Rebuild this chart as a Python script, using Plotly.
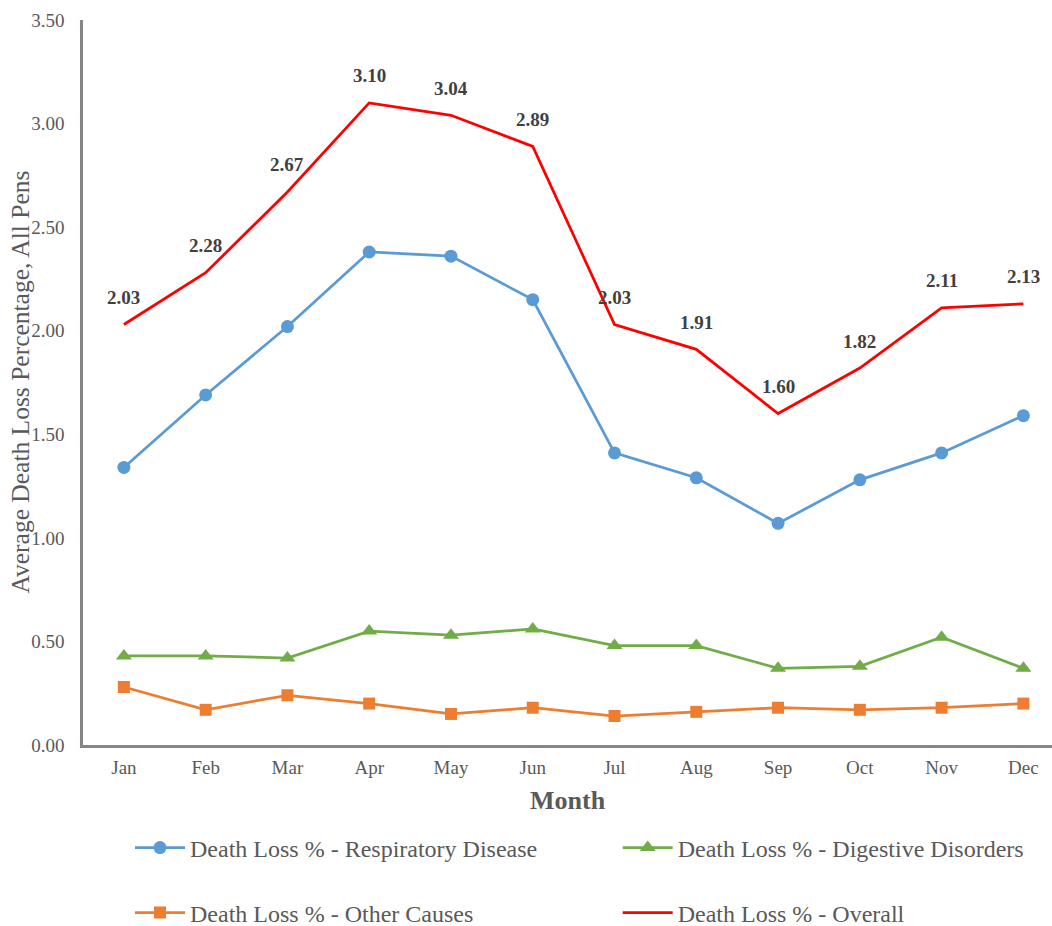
import plotly.graph_objects as go

months = ["Jan", "Feb", "Mar", "Apr", "May", "Jun", "Jul", "Aug", "Sep", "Oct", "Nov", "Dec"]
respiratory = [1.34, 1.69, 2.02, 2.38, 2.36, 2.15, 1.41, 1.29, 1.07, 1.28, 1.41, 1.59]
digestive = [0.43, 0.43, 0.42, 0.55, 0.53, 0.56, 0.48, 0.48, 0.37, 0.38, 0.52, 0.37]
other = [0.28, 0.17, 0.24, 0.20, 0.15, 0.18, 0.14, 0.16, 0.18, 0.17, 0.18, 0.20]
overall = [2.03, 2.28, 2.67, 3.10, 3.04, 2.89, 2.03, 1.91, 1.60, 1.82, 2.11, 2.13]

FONT = "Liberation Serif"
GRAY = "#595959"

fig = go.Figure()
fig.add_trace(go.Scatter(x=months, y=respiratory, mode="lines+markers",
                         name="Death Loss % - Respiratory Disease",
                         line=dict(color="#5B9BD5", width=2.75),
                         marker=dict(symbol="circle", size=13, color="#5B9BD5"),
                         legend="legend"))
fig.add_trace(go.Scatter(x=months, y=digestive, mode="lines+markers",
                         name="Death Loss % - Digestive Disorders",
                         line=dict(color="#70AD47", width=2.75),
                         marker=dict(symbol="triangle-up", size=14, color="#70AD47"),
                         legend="legend2"))
fig.add_trace(go.Scatter(x=months, y=other, mode="lines+markers",
                         name="Death Loss % - Other Causes",
                         line=dict(color="#ED7D31", width=2.75),
                         marker=dict(symbol="square", size=12, color="#ED7D31"),
                         legend="legend3"))
fig.add_trace(go.Scatter(x=months, y=overall, mode="lines",
                         name="Death Loss % - Overall",
                         line=dict(color="#FF0000", width=2.75),
                         legend="legend4"))

for m, v in zip(months, overall):
    fig.add_annotation(x=m, y=v, text=f"{v:.2f}", showarrow=False,
                       yshift=27, font=dict(family=FONT, size=19, color="#404040", weight="bold"))

fig.add_annotation(x=0.5, y=-0.0759, xref="paper", yref="paper", text="<b>Month</b>",
                   showarrow=False, yanchor="middle",
                   font=dict(family=FONT, size=26, color=GRAY))
fig.add_annotation(x=-0.065, y=0.5, xref="paper", yref="paper",
                   text="Average Death Loss Percentage, All Pens", textangle=-90,
                   showarrow=False, xanchor="center", yanchor="middle",
                   font=dict(family=FONT, size=25.5, color=GRAY))

legend_common = dict(orientation="h", xanchor="left", yanchor="middle",
                     font=dict(family=FONT, size=24, color=GRAY),
                     bgcolor="rgba(0,0,0,0)", itemwidth=50)

fig.update_layout(
    width=1052, height=926,
    font=dict(family=FONT, color=GRAY),
    margin=dict(l=83, r=0, t=20, b=181, autoexpand=False),
    paper_bgcolor="white", plot_bgcolor="white",
    showlegend=True,
    legend=dict(x=0.0485, y=-0.142, **legend_common),
    legend2=dict(x=0.5518, y=-0.142, **legend_common),
    legend3=dict(x=0.0485, y=-0.2317, **legend_common),
    legend4=dict(x=0.5518, y=-0.2317, **legend_common),
    xaxis=dict(type="category", range=[-0.5, 11.35], showgrid=False,
               showline=True, linecolor="#868686", linewidth=2.5,
               ticks="", tickfont=dict(family=FONT, size=19, color=GRAY),
               ticklabelstandoff=3),
    yaxis=dict(range=[0, 3.5], dtick=0.5, tickformat=".2f", showgrid=False,
               showline=True, linecolor="#868686", linewidth=2.5,
               ticks="", tickfont=dict(family=FONT, size=19, color=GRAY),
               ticklabelstandoff=12, zeroline=False),
)

fig.write_html("out.html")
